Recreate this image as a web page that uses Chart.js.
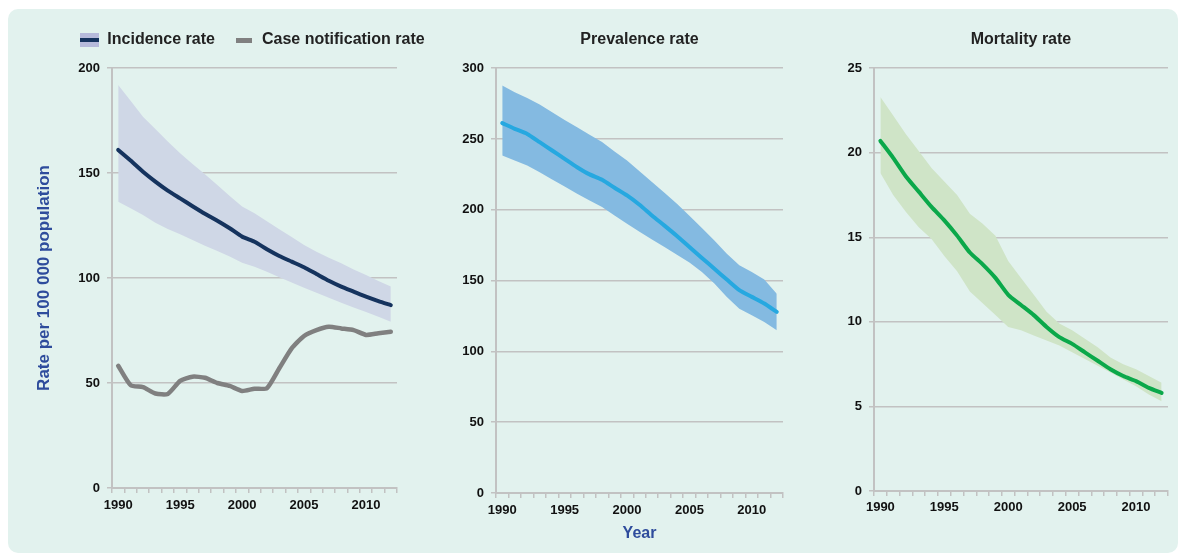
<!DOCTYPE html>
<html>
<head>
<meta charset="utf-8">
<script src="https://cdn.jsdelivr.net/npm/chart.js@4.4.1/dist/chart.umd.min.js"></script>
<style>
    body { margin: 0; width: 1186px; height: 554px; overflow: hidden; position: relative; background: #fff; }
    #panel { position: absolute; left: 8px; top: 9px; width: 1170px; height: 544px; background: #e2f2ee; border-radius: 10px; }
    canvas { position: absolute; top: 0; }
</style>
</head>
<body>
<div id="panel"></div>
<canvas id="incidence-chart" width="505" height="554" style="left:0"></canvas>
<canvas id="prevalence-chart" width="390" height="554" style="left:420px"></canvas>
<canvas id="mortality-chart" width="376" height="554" style="left:810px"></canvas>
<script>
var years = [1990, 1991, 1992, 1993, 1994, 1995, 1996, 1997, 1998, 1999, 2000, 2001,
    2002, 2003, 2004, 2005, 2006, 2007, 2008, 2009, 2010, 2011, 2012];

// Incidence (rate per 100 000), with uncertainty band
var incidence   = [161.0, 155.9, 150.6, 145.9, 141.6, 137.9, 134.2, 130.6, 127.3, 123.7, 119.7, 117.3, 113.7, 110.5, 107.8, 105.1, 101.9, 98.7, 95.9, 93.5, 91.1, 89.0, 87.1];
var incidenceHi = [191.9, 184.4, 176.8, 170.9, 165.0, 159.4, 154.3, 149.4, 144.3, 139.0, 134.0, 130.8, 127.0, 123.2, 119.5, 115.7, 112.5, 109.7, 107.0, 104.1, 101.4, 98.6, 95.9];
var incidenceLo = [136.3, 133.2, 130.0, 126.3, 123.3, 120.8, 118.1, 115.4, 112.9, 110.2, 107.3, 105.4, 103.0, 100.3, 97.8, 95.4, 93.0, 90.6, 88.2, 86.0, 83.8, 81.6, 79.2];
var notification = [58.2, 49.0, 48.0, 45.0, 44.8, 51.0, 53.0, 52.5, 50.0, 48.6, 46.2, 47.3, 47.5, 57.0, 66.5, 72.4, 75.2, 76.8, 76.0, 75.2, 72.9, 73.7, 74.4];

// Prevalence
var prevalence   = [261.2, 257.2, 253.6, 247.8, 241.9, 236.0, 230.1, 225.0, 221.2, 215.6, 210.2, 203.6, 196.0, 188.8, 181.5, 173.7, 166.0, 158.4, 150.7, 143.2, 138.5, 133.8, 127.9];
var prevalenceHi = [287.7, 283.0, 279.0, 274.3, 268.9, 263.5, 258.3, 253.0, 247.8, 241.2, 234.8, 227.3, 219.6, 212.0, 204.3, 195.8, 187.1, 178.4, 169.0, 160.8, 156.1, 150.7, 140.8];
var prevalenceLo = [238.4, 234.8, 231.3, 226.6, 221.4, 216.5, 211.3, 206.6, 201.9, 196.0, 190.2, 184.5, 179.1, 173.7, 168.3, 162.7, 156.1, 147.9, 138.5, 130.2, 125.5, 120.8, 115.0];

// Mortality
var mortality   = [20.7, 19.7, 18.6, 17.7, 16.8, 16.0, 15.1, 14.1, 13.4, 12.6, 11.6, 11.0, 10.4, 9.7, 9.1, 8.7, 8.2, 7.7, 7.2, 6.8, 6.5, 6.1, 5.8];
var mortalityHi = [23.3, 22.2, 21.1, 20.1, 19.1, 18.3, 17.5, 16.4, 15.8, 15.1, 13.6, 12.6, 11.6, 10.6, 9.9, 9.5, 9.0, 8.5, 7.9, 7.5, 7.2, 6.8, 6.4];
var mortalityLo = [18.8, 17.5, 16.5, 15.6, 14.9, 13.9, 13.0, 11.8, 11.1, 10.4, 9.7, 9.5, 9.2, 8.9, 8.6, 8.2, 7.8, 7.4, 7.0, 6.6, 6.2, 5.7, 5.3];

Chart.defaults.font.family = '"Liberation Sans", Arial, sans-serif';
Chart.defaults.color = '#111';
Chart.defaults.animation = false;

var gridGrey = '#c2c2c2';
var titleBlue = '#2e4c9c';

function xAxis(height, labelPad, title) {
    return {
        type: 'category',
        offset: true,
        grid: { offset: true, drawOnChartArea: false, color: gridGrey, lineWidth: 1.5, tickLength: 5 },
        border: { color: gridGrey, width: 2 },
        ticks: {
            autoSkip: false, maxRotation: 0, padding: labelPad,
            font: { size: 13, weight: 'bold' },
            callback: function (v, i) { return years[i] % 5 === 0 ? String(years[i]) : ''; }
        },
        title: title || { display: false },
        afterFit: function (scale) { scale.height = height; }
    };
}

function yAxis(max, step, width, title) {
    return {
        min: 0, max: max,
        grid: { color: gridGrey, lineWidth: 1.5, tickLength: 5 },
        border: { color: gridGrey, width: 2 },
        ticks: { stepSize: step, padding: 7, font: { size: 13, weight: 'bold' } },
        title: title || { display: false },
        afterFit: function (scale) { scale.width = width; }
    };
}

// empty boxes used only to push the plot area where it sits in the picture
function spacer(position, size) {
    return {
        type: 'linear', position: position, display: true,
        grid: { display: false }, border: { display: false }, ticks: { display: false },
        afterFit: function (scale) {
            if (position === 'top') scale.height = size; else scale.width = size;
        }
    };
}

function mainLine(label, data, color, width) {
    return { label: label, data: data, borderColor: color, backgroundColor: color, borderWidth: width,
        pointRadius: 0, tension: 0.2, fill: false, borderCapStyle: 'round', borderJoinStyle: 'round',
        xAxisID: 'x', yAxisID: 'y' };
}

function band(label, data, color, fill) {
    return { label: label, data: data, borderWidth: 0, borderColor: color, backgroundColor: color,
        pointRadius: 0, tension: 0, fill: fill, xAxisID: 'x', yAxisID: 'y' };
}

function panelTitle(text) {
    return { display: true, fullSize: false, text: text, color: '#222',
        font: { size: 16, weight: 'bold' }, padding: { top: 30, bottom: 19 } };
}

function legendIcon(w, h, draw) {
    var c = document.createElement('canvas');
    c.width = w; c.height = h;
    draw(c.getContext('2d'));
    return c;
}

var incidenceIcon = legendIcon(19, 14, function (ctx) {
    ctx.fillStyle = '#b6badb'; ctx.fillRect(0, 0, 19, 14);
    ctx.fillStyle = '#15335e'; ctx.fillRect(0, 5, 19, 4);
});
var notificationIcon = legendIcon(16, 5, function (ctx) {
    ctx.fillStyle = '#808080'; ctx.fillRect(0, 0, 16, 5);
});

/* Incidence */
new Chart(document.getElementById('incidence-chart'), {
    type: 'line',
    data: {
        labels: years,
        datasets: [
            mainLine('Incidence rate', incidence, '#15335e', 4),
            mainLine('Case notification rate', notification, '#808080', 4.5),
            band('Incidence upper', incidenceHi, '#cfd7e6', '+1'),
            band('Incidence lower', incidenceLo, '#cfd7e6', false)
        ]
    },
    options: {
        responsive: false,
        layout: { padding: { top: 12, left: 0, right: 0, bottom: 0 } },
        scales: {
            x: xAxis(66, 5),
            y: yAxis(200, 50, 112, {
                display: true, text: 'Rate per 100 000 population', color: titleBlue,
                font: { size: 17, weight: 'bold' }, padding: { top: 34, bottom: 0 }
            }),
            padRight: spacer('right', 108),
            padTop: spacer('top', 10)
        },
        plugins: {
            tooltip: { enabled: false },
            legend: {
                labels: {
                    usePointStyle: true, pointStyleWidth: 19, padding: 20, color: '#222',
                    font: { size: 16, weight: 'bold' },
                    generateLabels: function (chart) {
                        var items = Chart.defaults.plugins.legend.labels.generateLabels(chart).slice(0, 2);
                        items[0].pointStyle = incidenceIcon;
                        items[1].pointStyle = notificationIcon;
                        return items;
                    }
                }
            }
        }
    }
}); /* Incidence */

/* Prevalence */
new Chart(document.getElementById('prevalence-chart'), {
    type: 'line',
    data: {
        labels: years,
        datasets: [
            mainLine('Prevalence rate', prevalence, '#26a8e0', 4),
            band('Prevalence upper', prevalenceHi, '#84bae1', '+1'),
            band('Prevalence lower', prevalenceLo, '#84bae1', false)
        ]
    },
    options: {
        responsive: false,
        layout: { padding: { top: 0, left: 0, right: 27, bottom: 0 } },
        scales: {
            x: xAxis(61, 4.5, {
                display: true, text: 'Year', color: titleBlue,
                font: { size: 16, weight: 'bold' }, padding: { top: 0, bottom: 11 }
            }),
            y: yAxis(300, 50, 76)
        },
        plugins: {
            tooltip: { enabled: false },
            legend: { display: false },
            title: panelTitle('Prevalence rate')
        }
    }
}); /* Prevalence */

/* Mortality */
new Chart(document.getElementById('mortality-chart'), {
    type: 'line',
    data: {
        labels: years,
        datasets: [
            mainLine('Mortality rate', mortality, '#0ba84a', 4),
            band('Mortality upper', mortalityHi, '#cfe4c7', '+1'),
            band('Mortality lower', mortalityLo, '#cfe4c7', false)
        ]
    },
    options: {
        responsive: false,
        layout: { padding: { top: 0, left: 0, right: 18, bottom: 0 } },
        scales: {
            x: xAxis(63, 4),
            y: yAxis(25, 5, 64)
        },
        plugins: {
            tooltip: { enabled: false },
            legend: { display: false },
            title: panelTitle('Mortality rate')
        }
    }
}); /* Mortality */
</script>
</body>
</html>
